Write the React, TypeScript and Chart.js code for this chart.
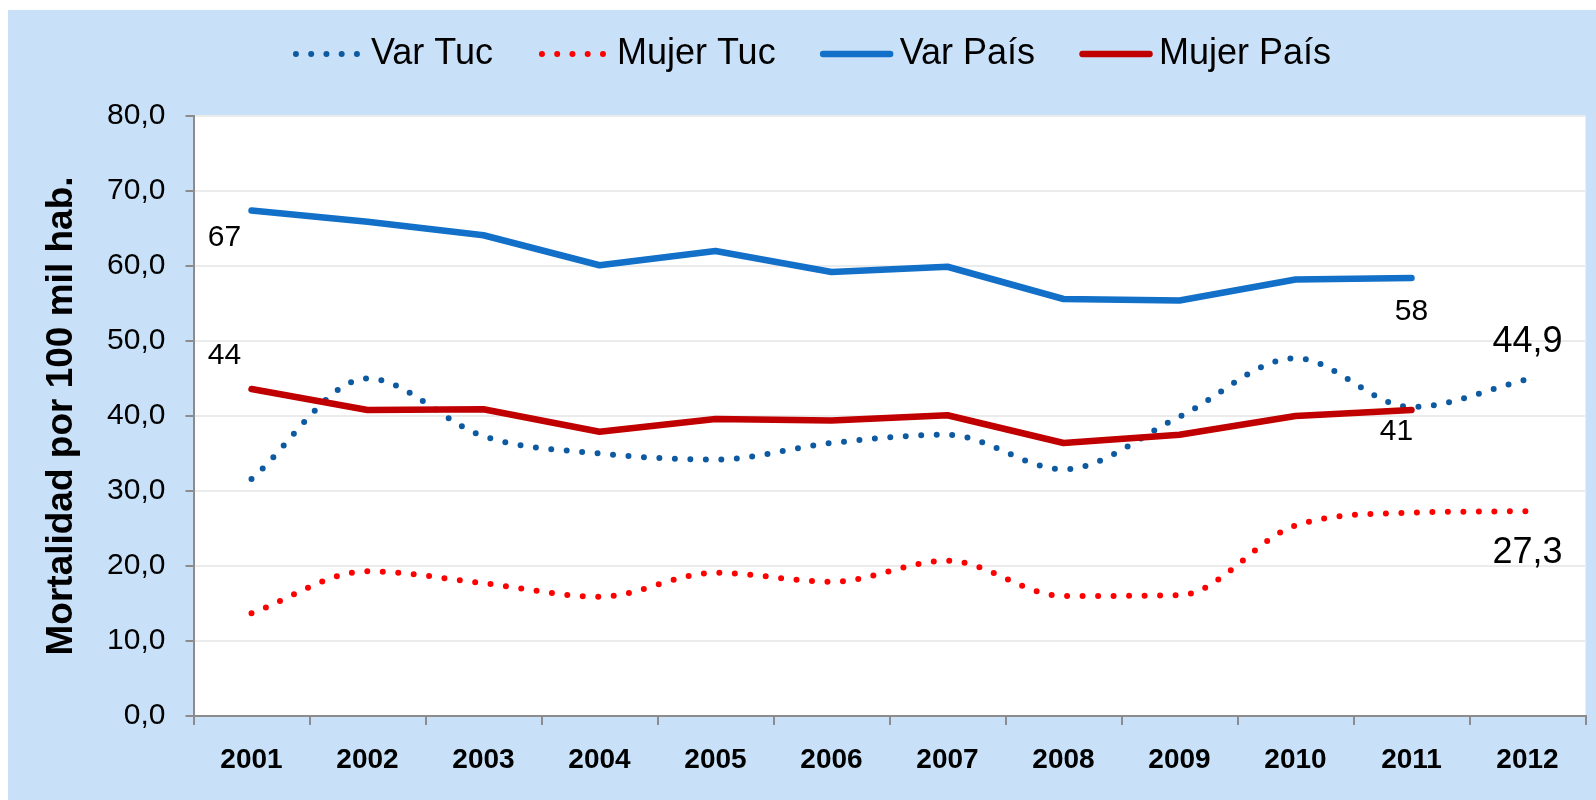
import React, { useEffect, useRef } from "react";
import { Chart, registerables } from "chart.js";

Chart.register(...registerables);

const FONT = "'Liberation Sans', Arial, Helvetica, sans-serif";

// ---------- data ----------
const categories = ["2001", "2002", "2003", "2004", "2005", "2006", "2007", "2008", "2009", "2010", "2011", "2012"];
const seriesNames = ["Var Tuc", "Mujer Tuc", "Var País", "Mujer País"];
const varTuc = [31.6, 45.0, 37.3, 35.0, 34.2, 36.4, 37.5, 32.9, 39.9, 47.7, 41.2, 44.9];
const mujerTuc = [13.7, 19.3, 17.7, 15.9, 19.1, 17.9, 20.7, 16.0, 16.1, 25.4, 27.1, 27.3];
const varPais = [67.4, 65.9, 64.1, 60.1, 62.0, 59.2, 59.9, 55.6, 55.4, 58.2, 58.4, null];
const mujerPais = [43.6, 40.8, 40.9, 37.9, 39.6, 39.4, 40.1, 36.4, 37.5, 40.0, 40.8, null];
const yMin = 0;
const yMax = 80;
const yStep = 10;
const yTitle = "Mortalidad por 100 mil hab.";

// value annotations: dataset index, category index, decimals
const annotations = [
  { ds: 2, idx: 0, dec: 0, size: 30, dx: -27, dy: 27 },
  { ds: 3, idx: 0, dec: 0, size: 30, dx: -27, dy: -33 },
  { ds: 2, idx: 10, dec: 0, size: 30, dx: 0, dy: 34 },
  { ds: 3, idx: 10, dec: 0, size: 30, dx: -15, dy: 22 },
  { ds: 0, idx: 11, dec: 1, size: 36, dx: 0, dy: -37 },
  { ds: 1, idx: 11, dec: 1, size: 36, dx: 0, dy: 42 },
];

const fmt = (v: number, dec: number) => v.toFixed(dec).replace(".", ",");

const plotBgPlugin = {
  id: "plotBg",
  beforeDraw(chart: any) {
    const { ctx, chartArea } = chart;
    ctx.save();
    ctx.fillStyle = "#FFFFFF";
    ctx.fillRect(chartArea.left, chartArea.top, chartArea.right - chartArea.left, chartArea.bottom - chartArea.top);
    ctx.restore();
  },
};

const legendPlugin = {
  id: "customLegend",
  afterDraw(chart: any) {
    const ctx = chart.ctx;
    ctx.save();
    ctx.font = `36px ${FONT}`;
    const slot = 80;
    const gapItem = 44;
    const items = chart.data.datasets.map((ds: any) => ({ ds, w: ctx.measureText(ds.label).width }));
    const total = items.reduce((s: number, it: any) => s + slot + it.w, 0) + gapItem * (items.length - 1);
    let x = 803 - total / 2;
    const y = 44;
    items.forEach(({ ds, w }: any) => {
      ctx.beginPath();
      ctx.strokeStyle = ds.borderColor;
      ctx.lineWidth = ds.borderWidth;
      ctx.lineCap = "round";
      if (ds.borderDash && ds.borderDash.length) {
        ctx.setLineDash([0, 15.25]);
        ctx.moveTo(x + 5, y);
        ctx.lineTo(x + 66.2, y);
      } else {
        ctx.setLineDash([]);
        ctx.moveTo(x + 3.5, y);
        ctx.lineTo(x + 70.5, y);
      }
      ctx.stroke();
      ctx.setLineDash([]);
      ctx.fillStyle = "#000000";
      ctx.textBaseline = "middle";
      ctx.textAlign = "left";
      ctx.fillText(ds.label, x + slot, y);
      x += slot + w + gapItem;
    });
    ctx.restore();
  },
};

const valueLabelPlugin = {
  id: "valueLabels",
  afterDatasetsDraw(chart: any) {
    const ctx = chart.ctx;
    ctx.save();
    ctx.fillStyle = "#000000";
    ctx.textAlign = "center";
    ctx.textBaseline = "middle";
    annotations.forEach((a) => {
      const meta = chart.getDatasetMeta(a.ds);
      const pt = meta.data[a.idx];
      const v = chart.data.datasets[a.ds].data[a.idx];
      if (!pt || v == null) return;
      ctx.font = `${a.size}px ${FONT}`;
      ctx.fillText(fmt(v, a.dec), pt.x + a.dx, pt.y + a.dy);
    });
    ctx.restore();
  },
};

export default function App() {
  const ref = useRef<HTMLCanvasElement>(null);

  useEffect(() => {
    if (!ref.current) return;
    const dotted = {
      borderDash: [0, 15.5],
      borderWidth: 6,
      borderCapStyle: "round" as const,
      cubicInterpolationMode: "monotone" as const,
    };
    const solid = { borderWidth: 6.5, borderCapStyle: "round" as const, borderJoinStyle: "round" as const, tension: 0 };
    const chart = new Chart(ref.current, {
      type: "line",
      data: {
        labels: categories,
        datasets: [
          { label: seriesNames[0], data: varTuc, borderColor: "#0E5AA0", backgroundColor: "#0E5AA0", order: 4, ...dotted },
          { label: seriesNames[1], data: mujerTuc, borderColor: "#FF0000", backgroundColor: "#FF0000", order: 3, ...dotted },
          { label: seriesNames[2], data: varPais, borderColor: "#1270C8", backgroundColor: "#1270C8", order: 2, ...solid },
          { label: seriesNames[3], data: mujerPais, borderColor: "#C00000", backgroundColor: "#C00000", order: 1, ...solid },
        ],
      },
      options: {
        responsive: false,
        animation: false,
        devicePixelRatio: 1,
        layout: { padding: { top: 106, right: 10.5, bottom: 0, left: 0 } },
        elements: { point: { radius: 0, hoverRadius: 0 } },
        plugins: { legend: { display: false }, tooltip: { enabled: false }, title: { display: false } },
        scales: {
          x: {
            type: "category",
            offset: true,
            grid: { display: true, drawOnChartArea: false, drawTicks: true, offset: true, tickLength: 9, tickColor: "#8C8C8C", lineWidth: 2 },
            border: { display: true, color: "#8C8C8C", width: 2 },
            ticks: { color: "#000000", font: { family: FONT, size: 28, weight: "bold" }, padding: 18, maxRotation: 0, autoSkip: false },
            afterFit: (s: any) => { s.height = 84; },
          },
          y: {
            min: yMin,
            max: yMax,
            grid: { color: "#EBEBEB", lineWidth: 2, tickLength: 8, tickColor: "#8C8C8C" },
            border: { display: true, color: "#8C8C8C", width: 2 },
            ticks: {
              stepSize: yStep,
              color: "#000000",
              font: { family: FONT, size: 30 },
              padding: 20,
              callback: (v: any) => fmt(Number(v), 1),
            },
            title: { display: true, text: yTitle, color: "#000000", font: { family: FONT, size: 37, weight: "bold" }, padding: { top: 32, bottom: 0 } },
            afterFit: (s: any) => { s.width = 185.5; },
          },
        },
      },
      plugins: [plotBgPlugin, legendPlugin, valueLabelPlugin],
    } as any);
    return () => chart.destroy();
  }, []);

  return (
    <div style={{ position: "absolute", left: 8, top: 10, width: 1588, height: 790, background: "#C8E1F9" }}>
      <canvas ref={ref} width={1588} height={790} style={{ display: "block", width: 1588, height: 790 }} />
    </div>
  );
}
